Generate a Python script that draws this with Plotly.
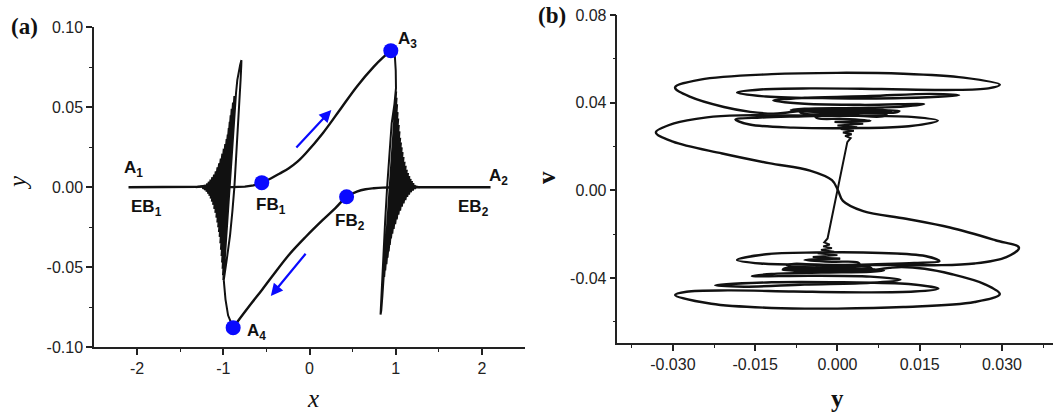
import plotly.graph_objects as go

# ---------------- panel (a): trajectory in the (x, y) plane ----------------
# equilibrium branch EB1 from A1 up to the fold FB1
eb1_x = [-2.1, -1.6, -1.4, -1.3, -1.25, -1.1, -0.9, -0.75, -0.65, -0.554]
eb1_y = [0.0, 0.0, 0.0001, 0.0004, 0.0006, 0.0003, 0.0001, 0.0004, 0.0012, 0.0029]

# slow rise FB1 -> A3
rise_x = [-0.554, -0.45, -0.35, -0.24, -0.14, -0.043, 0.154, 0.351, 0.548, 0.746, 0.85, 0.943]
rise_y = [0.0029, 0.0055, 0.0085, 0.0119, 0.0160, 0.0213, 0.0338, 0.0483, 0.0629, 0.0754, 0.0810, 0.0854]

# slow descent A4 -> FB2 and branch EB2 out to A2
fall_x = [-0.886, -0.78, -0.674, -0.55, -0.437, -0.24, -0.043, 0.154, 0.30, 0.43, 0.549, 0.65, 0.746, 0.85, 1.0, 1.3, 1.6, 2.1]
fall_y = [-0.0877, -0.0800, -0.0725, -0.0640, -0.0559, -0.0423, -0.0309, -0.0204, -0.0130, -0.0059, -0.0027, -0.0012, -0.0006, -0.0002, 0.0, 0.0, 0.0, 0.0]

# fast jump near x = -1 (A4 up to the tip and back down)
jump_l_x = [-0.886, -0.945, -0.975, -0.995, -0.96, -0.922, -0.895, -0.872, -0.845, -0.814, -0.800, -0.792, -0.790, -0.805, -0.838, -0.853]
jump_l_y = [-0.0877, -0.080, -0.070, -0.058, -0.045, -0.030, -0.015, 0.0, 0.025, 0.050, 0.067, 0.076, 0.0795, 0.0765, 0.067, 0.0588]
# turning points of the decaying burst near x = -1
burst_l_x = [-1.000, -0.872, -1.004, -0.888, -1.009, -0.903, -1.015, -0.915, -1.021, -0.926, -1.028, -0.937,
             -1.035, -0.949, -1.043, -0.962, -1.051, -0.978, -1.060, -0.995, -1.070, -1.012, -1.081, -1.030,
             -1.093, -1.049, -1.106, -1.068, -1.119, -1.088, -1.133, -1.108, -1.147, -1.128, -1.162, -1.148,
             -1.178, -1.168, -1.195, -1.188, -1.213, -1.210, -1.235, -1.235, -1.27, -1.32]
burst_l_y = [-0.058, 0.057, -0.055, 0.053, -0.051, 0.049, -0.047, 0.045, -0.043, 0.041, -0.039, 0.037,
             -0.035, 0.033, -0.031, 0.030, -0.028, 0.027, -0.025, 0.024, -0.022, 0.021, -0.019, 0.018,
             -0.016, 0.015, -0.0135, 0.0125, -0.011, 0.010, -0.009, 0.008, -0.007, 0.0063, -0.0053, 0.0048,
             -0.004, 0.0035, -0.0028, 0.0024, -0.0018, 0.0015, -0.001, 0.0008, 0.0003, 0.0]

# fast jump near x = +1 (A3 down to the tip and back up)
jump_r_x = [0.943, 0.970, 0.990, 1.000, 1.003, 0.985, 0.953, 0.925, 0.900, 0.876, 0.852, 0.836, 0.826, 0.824, 0.832, 0.845]
jump_r_y = [0.0854, 0.0848, 0.0820, 0.0730, 0.0620, 0.0520, 0.0400, 0.0200, 0.0000, -0.0225, -0.0500, -0.0680, -0.0770, -0.0795, -0.0770, -0.0680]
burst_r_x = [1.005, 0.866, 1.010, 0.878, 1.016, 0.892, 1.022, 0.905, 1.029, 0.918, 1.036, 0.931,
             1.044, 0.945, 1.052, 0.960, 1.061, 0.976, 1.070, 0.994, 1.080, 1.012, 1.091, 1.031,
             1.103, 1.051, 1.116, 1.071, 1.129, 1.091, 1.143, 1.112, 1.158, 1.133, 1.173, 1.154,
             1.189, 1.175, 1.205, 1.196, 1.222, 1.218, 1.24, 1.28]
burst_r_y = [0.060, -0.056, 0.056, -0.052, 0.052, -0.048, 0.047, -0.044, 0.043, -0.040, 0.039, -0.036,
             0.035, -0.032, 0.031, -0.029, 0.028, -0.026, 0.025, -0.023, 0.022, -0.020, 0.019, -0.017,
             0.016, -0.0145, 0.0135, -0.012, 0.011, -0.010, 0.009, -0.008, 0.007, -0.006, 0.0053, -0.0045,
             0.004, -0.003, 0.0027, -0.002, 0.0015, -0.001, 0.0004, 0.0]

# marked points FB1, FB2, A3, A4
mark_x = [-0.554, 0.430, 0.943, -0.886]
mark_y = [0.0029, -0.0059, 0.0854, -0.0877]

# labels on panel (a)
lab_text = ["A<sub>1</sub>", "EB<sub>1</sub>", "FB<sub>1</sub>", "FB<sub>2</sub>",
            "EB<sub>2</sub>", "A<sub>2</sub>", "A<sub>3</sub>", "A<sub>4</sub>"]
lab_x = [-2.045, -1.892, -0.449, 0.473, 1.897, 2.188, 1.136, -0.615]
lab_y = [0.0112, -0.0131, -0.0115, -0.0215, -0.0131, 0.0066, 0.0920, -0.0902]

# direction arrows (tail -> head)
arr_tail_x = [-0.169, -0.031]
arr_tail_y = [0.0239, -0.0406]
arr_head_x = [0.253, -0.449]
arr_head_y = [0.0483, -0.0679]

# ---------------- panel (b): phase portrait (y, v) ----------------
stem_y = [0.0005, -0.0045, 0.0000, -0.0036, -0.0006, -0.0030, -0.0010, -0.0026, -0.0014, -0.0024, -0.0018,
          0.0000, 0.0018, 0.0024, 0.0014, 0.0026, 0.0010, 0.0030, 0.0006, 0.0036, 0.0000, 0.0047, -0.0005]
stem_v = [-0.0312, -0.0304, -0.0296, -0.0288, -0.0280, -0.0272, -0.0264, -0.0256, -0.0248, -0.0238, -0.0220,
          0.0000, 0.0220, 0.0238, 0.0248, 0.0256, 0.0264, 0.0272, 0.0280, 0.0288, 0.0296, 0.0304, 0.0312]

s_y = [0.0040, -0.0060, -0.0140, -0.0186, -0.0160, -0.0080, 0.0040, 0.0130, 0.0183, 0.0140, 0.0040, -0.0080,
       -0.0177, -0.0238, -0.0298, -0.0331, -0.0300, -0.0210, -0.0125, -0.0050, -0.0010, 0.0001, 0.0010,
       0.0047, 0.0125, 0.0205, 0.0288, 0.0331, 0.0308, 0.0250, 0.0177, 0.0080, -0.0040, -0.0140, -0.0183,
       -0.0130, -0.0040, 0.0080, 0.0160, 0.0186, 0.0140, 0.0060, -0.0040]
s_v = [0.0345, 0.0338, 0.0332, 0.0323, 0.0300, 0.0286, 0.0284, 0.0292, 0.0318, 0.0334, 0.0340, 0.0341,
       0.0342, 0.0333, 0.0305, 0.0264, 0.0222, 0.0168, 0.0124, 0.0090, 0.0046, 0.0000, -0.0048,
       -0.0095, -0.0130, -0.0170, -0.0228, -0.0262, -0.0305, -0.0334, -0.0342, -0.0341, -0.0340, -0.0334, -0.0318,
       -0.0292, -0.0284, -0.0286, -0.0300, -0.0323, -0.0332, -0.0338, -0.0345]

up_y = [-0.0005, 0.0060, 0.0010, -0.0035, -0.0040, 0.0020, 0.0077, 0.0090, 0.0020, -0.0060, -0.0068,
        0.0020, 0.0105, 0.0113, 0.0030, -0.0070, -0.0095, -0.0117, -0.0159, -0.0207, -0.0268, -0.0296,
        -0.0250, -0.0120, 0.0000, 0.0120, 0.0230, 0.0296, 0.0275, 0.0200, 0.0080, -0.0050, -0.0140, -0.0183,
        -0.0130, -0.0010, 0.0120, 0.0222, 0.0170, 0.0060, -0.0060, -0.0117, -0.0060, 0.0050, 0.0158, 0.0120,
        0.0030, -0.0060, -0.0085, -0.0020, 0.0070, 0.0100, 0.0040, -0.0040, -0.0070, 0.0000, 0.0070, 0.0020]
up_v = [0.0312, 0.0318, 0.0326, 0.0328, 0.0336, 0.0342, 0.0336, 0.0344, 0.0352, 0.0348, 0.0356,
        0.0362, 0.0355, 0.0362, 0.0368, 0.0362, 0.0354, 0.0350, 0.0358, 0.0380, 0.0426, 0.0469,
        0.0505, 0.0530, 0.0536, 0.0532, 0.0514, 0.0482, 0.0465, 0.0458, 0.0462, 0.0465, 0.0460, 0.0446,
        0.0428, 0.0420, 0.0421, 0.0434, 0.0440, 0.0430, 0.0422, 0.0410, 0.0395, 0.0390, 0.0393, 0.0382,
        0.0376, 0.0372, 0.0366, 0.0360, 0.0358, 0.0364, 0.0370, 0.0368, 0.0362, 0.0356, 0.0360, 0.0364]

lo_y = [0.0005, -0.0060, -0.0010, 0.0035, 0.0040, -0.0020, -0.0080, -0.0092, -0.0020, 0.0055, 0.0062,
        -0.0020, -0.0095, -0.0099, -0.0030, 0.0070, 0.0095, 0.0117, 0.0159, 0.0207, 0.0268, 0.0296,
        0.0250, 0.0120, 0.0000, -0.0120, -0.0230, -0.0296, -0.0275, -0.0200, -0.0080, 0.0050, 0.0140, 0.0184,
        0.0130, 0.0010, -0.0120, -0.0223, -0.0170, -0.0060, 0.0060, 0.0115, 0.0060, -0.0050, -0.0156, -0.0120,
        -0.0030, 0.0060, 0.0085, 0.0020, -0.0070, -0.0100, -0.0040, 0.0040, 0.0070, 0.0000, -0.0070, -0.0020]
lo_v = [-0.0312, -0.0318, -0.0326, -0.0328, -0.0336, -0.0342, -0.0336, -0.0344, -0.0352, -0.0348, -0.0356,
        -0.0362, -0.0355, -0.0362, -0.0368, -0.0362, -0.0354, -0.0350, -0.0358, -0.0382, -0.0428, -0.0474,
        -0.0510, -0.0533, -0.0540, -0.0537, -0.0518, -0.0478, -0.0463, -0.0457, -0.0462, -0.0466, -0.0462, -0.0449,
        -0.0428, -0.0420, -0.0420, -0.0434, -0.0440, -0.0430, -0.0422, -0.0408, -0.0394, -0.0390, -0.0392, -0.0382,
        -0.0376, -0.0372, -0.0366, -0.0360, -0.0358, -0.0364, -0.0370, -0.0368, -0.0362, -0.0356, -0.0360, -0.0364]

# ---------------- figure ----------------
BLACK = "#111111"
BLUE = "#0a0aff"
LW = 2.4

fig = go.Figure()


def path(xs, ys, xa="x", ya="y", shape="linear", width=LW):
    fig.add_trace(go.Scatter(x=xs, y=ys, mode="lines", xaxis=xa, yaxis=ya,
                             line=dict(color=BLACK, width=width, shape=shape, smoothing=1.0),
                             hoverinfo="skip", showlegend=False))


path(eb1_x, eb1_y)
path(rise_x, rise_y, shape="spline")
path(fall_x, fall_y, shape="spline")
path(jump_l_x + burst_l_x, jump_l_y + burst_l_y, width=2.0)
path(jump_r_x + burst_r_x, jump_r_y + burst_r_y, width=2.0)

fig.add_trace(go.Scatter(x=mark_x, y=mark_y, mode="markers", xaxis="x", yaxis="y",
                         marker=dict(color=BLUE, size=15, line=dict(width=0)),
                         hoverinfo="skip", showlegend=False))

path(stem_y, stem_v, "x2", "y2", width=2.0)
path(s_y, s_v, "x2", "y2", shape="spline")
path(up_y, up_v, "x2", "y2", shape="spline")
path(lo_y, lo_v, "x2", "y2", shape="spline")

annotations = []
for t, x, y in zip(lab_text, lab_x, lab_y):
    annotations.append(dict(x=x, y=y, xref="x", yref="y", text="<b>" + t + "</b>", showarrow=False,
                            font=dict(family="Liberation Sans", size=17, color=BLACK),
                            xanchor="center", yanchor="middle"))
for tx, ty, hx, hy in zip(arr_tail_x, arr_tail_y, arr_head_x, arr_head_y):
    annotations.append(dict(x=hx, y=hy, ax=tx, ay=ty, xref="x", yref="y", axref="x", ayref="y",
                            text="", showarrow=True, arrowhead=2, arrowsize=1.1, arrowwidth=2.2,
                            arrowcolor=BLUE))

W, H = 1053, 412


def paper_text(px, py, text, size, family, angle=0):
    annotations.append(dict(x=px / W, y=1 - py / H, xref="paper", yref="paper", text=text,
                            showarrow=False, textangle=angle,
                            font=dict(family=family, size=size, color=BLACK),
                            xanchor="center", yanchor="middle"))


paper_text(24, 27, "<b>(a)</b>", 23, "Liberation Serif")
paper_text(552, 16, "<b>(b)</b>", 23, "Liberation Serif")
paper_text(313, 398, "<i>x</i>", 25, "Liberation Serif")
paper_text(17, 183, "<i>y</i>", 25, "Liberation Serif", -90)
paper_text(837, 398, "<b>y</b>", 25, "Liberation Serif")
paper_text(546, 178, "<b>v</b>", 25, "Liberation Serif", -90)

tick_font = dict(family="Liberation Sans", size=16, color="#222222")
axis_common = dict(showline=True, linecolor="#222222", linewidth=1.5, ticks="outside", ticklen=6,
                   tickwidth=1.5, tickcolor="#222222", showgrid=False, zeroline=False,
                   tickfont=tick_font, tickmode="array", automargin=False)

fig.update_layout(
    width=W, height=H, margin=dict(l=0, r=0, t=0, b=0, autoexpand=False),
    paper_bgcolor="white", plot_bgcolor="white",
    xaxis=dict(axis_common, domain=[0.0893, 0.4986], range=[-2.5, 2.5], anchor="y",
               tickvals=[-2, -1, 0, 1, 2], ticktext=["-2", "-1", "0", "1", "2"],
               minor=dict(tickmode="array", tickvals=[-1.5, -0.5, 0.5, 1.5], ticks="outside",
                          ticklen=3, tickwidth=1.2, tickcolor="#222222")),
    yaxis=dict(axis_common, domain=[0.157, 0.9337], range=[-0.1, 0.1], anchor="x",
               tickvals=[-0.1, -0.05, 0, 0.05, 0.1],
               ticktext=["-0.10", "-0.05", "0.00", "0.05", "0.10"],
               minor=dict(tickmode="array", tickvals=[-0.075, -0.025, 0.025, 0.075], ticks="outside",
                          ticklen=3, tickwidth=1.2, tickcolor="#222222")),
    xaxis2=dict(axis_common, domain=[0.5864, 1.0], range=[-0.0401, 0.0393], anchor="y2",
                tickvals=[-0.03, -0.015, 0, 0.015, 0.03],
                ticktext=["-0.030", "-0.015", "0.000", "0.015", "0.030"],
                minor=dict(tickmode="array", tickvals=[-0.0375, -0.0225, -0.0075, 0.0075, 0.0225, 0.0375],
                           ticks="outside", ticklen=3, tickwidth=1.2, tickcolor="#222222")),
    yaxis2=dict(axis_common, domain=[0.1675, 0.9636], range=[-0.0697, 0.08], anchor="x2",
                tickvals=[-0.04, 0, 0.04, 0.08], ticktext=["-0.04", "0.00", "0.04", "0.08"],
                minor=dict(tickmode="array", tickvals=[-0.06, -0.02, 0.02, 0.06], ticks="outside",
                           ticklen=3, tickwidth=1.2, tickcolor="#222222")),
    annotations=annotations,
)

fig.write_html("out.html", config={"displayModeBar": False})
